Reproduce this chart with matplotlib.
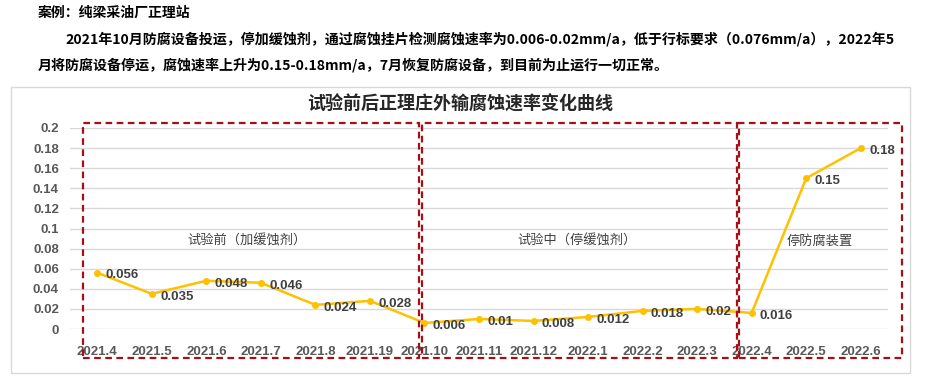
import matplotlib.pyplot as plt
from matplotlib.patches import Rectangle

plt.rcParams['font.family'] = ['Noto Sans CJK SC', 'DejaVu Sans']

months = ['2021.4', '2021.5', '2021.6', '2021.7', '2021.8', '2021.19', '2021.10',
          '2021.11', '2021.12', '2022.1', '2022.2', '2022.3', '2022.4', '2022.5', '2022.6']
rates = [0.056, 0.035, 0.048, 0.046, 0.024, 0.028, 0.006,
         0.01, 0.008, 0.012, 0.018, 0.02, 0.016, 0.15, 0.18]
rate_labels = ['0.056', '0.035', '0.048', '0.046', '0.024', '0.028', '0.006',
               '0.01', '0.008', '0.012', '0.018', '0.02', '0.016', '0.15', '0.18']
yticks = [0, 0.02, 0.04, 0.06, 0.08, 0.1, 0.12, 0.14, 0.16, 0.18, 0.2]
ytick_labels = ['0', '0.02', '0.04', '0.06', '0.08', '0.1', '0.12', '0.14', '0.16', '0.18', '0.2']
phases = ['试验前（加缓蚀剂）', '试验中（停缓蚀剂）', '停防腐装置']

W, H = 925, 386
fig = plt.figure(figsize=(W / 100, H / 100), dpi=100)

def fx(px):
    return px / W

def fy(py):
    return 1 - py / H

# header text
fig.text(fx(38), fy(13), '案例：纯梁采油厂正理站', fontsize=10, fontweight='bold',
         va='center', ha='left')
fig.text(fx(65), fy(39), '2021年10月防腐设备投运，停加缓蚀剂，通过腐蚀挂片检测腐蚀速率为0.006-0.02mm/a，低于行标要求（0.076mm/a），2022年5',
         fontsize=10.1, fontweight='bold', va='center', ha='left')
fig.text(fx(38), fy(65), '月将防腐设备停运，腐蚀速率上升为0.15-0.18mm/a，7月恢复防腐设备，到目前为止运行一切正常。',
         fontsize=10.1, fontweight='bold', va='center', ha='left')

# chart frame
fig.patches.append(Rectangle((fx(11), fy(373)), fx(899), 286 / H, transform=fig.transFigure,
                             fill=False, edgecolor='#d9d9d9', linewidth=1))
fig.text(fx(460), fy(104), '试验前后正理庄外输腐蚀速率变化曲线', fontsize=13, fontweight='bold',
         color='#262626', ha='center', va='center')

ax = fig.add_axes([fx(70), fy(329), fx(818), (329 - 128) / H])
x = list(range(len(months)))
ax.plot(x, rates, color='#FFC000', linewidth=1.8, marker='o', markersize=4, zorder=3)
for xi, yi, lab in zip(x, rates, rate_labels):
    ax.annotate(lab, (xi, yi), xytext=(6, -2), textcoords='offset points', ha='left', va='center',
                fontsize=9.5, fontweight='bold', color='#404040', family='Liberation Sans')

ax.set_xlim(-0.5, len(months) - 0.5)
ax.set_ylim(0, 0.2)
ax.set_yticks(yticks)
ax.set_yticklabels(ytick_labels)
ax.set_xticks(x)
ax.set_xticklabels(months)
for lab in ax.get_xticklabels() + ax.get_yticklabels():
    lab.set_family('Liberation Sans')
    lab.set_fontweight('bold')
    lab.set_fontsize(9.5)
    lab.set_color('#595959')
ax.tick_params(length=0, pad=8)
ax.tick_params(axis='x', pad=12)
ax.grid(axis='y', color='#d9d9d9', linewidth=1)
ax.set_axisbelow(True)
for s in ax.spines.values():
    s.set_visible(False)

# phase boxes
boxes = [(83, 419), (422, 737), (739, 902)]
for (l, r) in boxes:
    fig.patches.append(Rectangle((fx(l), fy(358)), fx(r - l), (358 - 123) / H,
                                 transform=fig.transFigure, fill=False, edgecolor='#A50F15',
                                 linewidth=1.6, linestyle=(0, (3, 2))))

for text, px in zip(phases, [247, 577, 820]):
    fig.text(fx(px), fy(241), text, fontsize=9.5, color='#404040', ha='center', va='center')

fig.savefig('out.png', dpi=100)
